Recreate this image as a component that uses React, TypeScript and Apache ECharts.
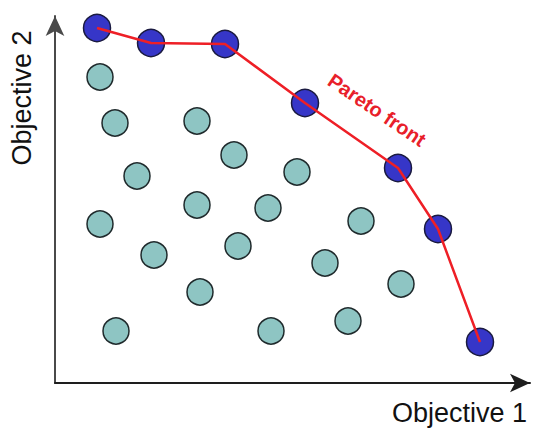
import React, { useEffect, useRef } from "react";
import * as echarts from "echarts";

// Pareto-optimal solutions [objective1, objective2]
const paretoPoints: number[][] = [
  [42, 355], [96, 340], [170, 339], [250, 280], [343, 215], [383, 154], [425, 41],
];

// Dominated solutions [objective1, objective2]
const dominatedPoints: number[][] = [
  [45, 306], [60, 260], [142, 262], [179, 228], [82, 207], [242, 211],
  [45, 159], [142, 178], [213, 175], [306, 162], [99, 128], [183, 137],
  [270, 120], [346, 99], [145, 91], [61, 52], [216, 52], [293, 62],
];

const xLabel = "Objective 1";
const yLabel = "Objective 2";
const frontLabel = "Pareto front";

export default function App() {
  const ref = useRef<HTMLDivElement>(null);
  useEffect(() => {
    if (!ref.current) return;
    const chart = echarts.init(ref.current, null, { renderer: "svg" });
    const font = "'Liberation Sans', Arial, Helvetica, sans-serif";
    chart.setOption({
      animation: false,
      backgroundColor: "#ffffff",
      grid: { left: 55, top: 16, right: 10, bottom: 49 },
      xAxis: {
        type: "value", min: 0, max: 475,
        axisLine: { show: true, symbol: ["none", "arrow"], symbolSize: [14, 20], lineStyle: { color: "#1e1e1e", width: 2 } },
        axisTick: { show: false }, axisLabel: { show: false }, splitLine: { show: false },
      },
      yAxis: {
        type: "value", min: 0, max: 367,
        axisLine: { show: true, symbol: ["none", "arrow"], symbolSize: [14, 20], lineStyle: { color: "#4a4a4a", width: 2 } },
        axisTick: { show: false }, axisLabel: { show: false }, splitLine: { show: false },
      },
      series: [
        {
          type: "scatter", data: dominatedPoints, symbolSize: 26,
          itemStyle: { color: "#8ec5c3", borderColor: "#1f2a2c", borderWidth: 1.5, opacity: 1 },
          z: 2,
        },
        {
          type: "scatter", data: paretoPoints, symbolSize: 27,
          itemStyle: { color: "#3636c8", borderColor: "#1a1a40", borderWidth: 1.5, opacity: 1 },
          z: 2,
        },
        {
          type: "line", data: paretoPoints, showSymbol: false, symbol: "none",
          lineStyle: { color: "#ee1f26", width: 2.5 }, z: 3,
        },
      ],
      graphic: [
        {
          type: "text", x: 527, y: 413,
          style: { text: xLabel, font: `27px ${font}`, fill: "#111", textAlign: "right", textVerticalAlign: "middle" },
        },
        {
          type: "text", x: 22, y: 98, rotation: Math.PI / 2,
          style: { text: yLabel, font: `27px ${font}`, fill: "#111", textAlign: "center", textVerticalAlign: "middle" },
        },
        {
          type: "text", x: 377, y: 110, rotation: (-34 * Math.PI) / 180,
          style: { text: frontLabel, font: `bold 20px ${font}`, fill: "#e8202a", textAlign: "center", textVerticalAlign: "middle" },
        },
      ],
    });
    return () => chart.dispose();
  }, []);
  return <div ref={ref} style={{ position: "absolute", left: 0, top: 0, width: 540, height: 432 }} />;
}
